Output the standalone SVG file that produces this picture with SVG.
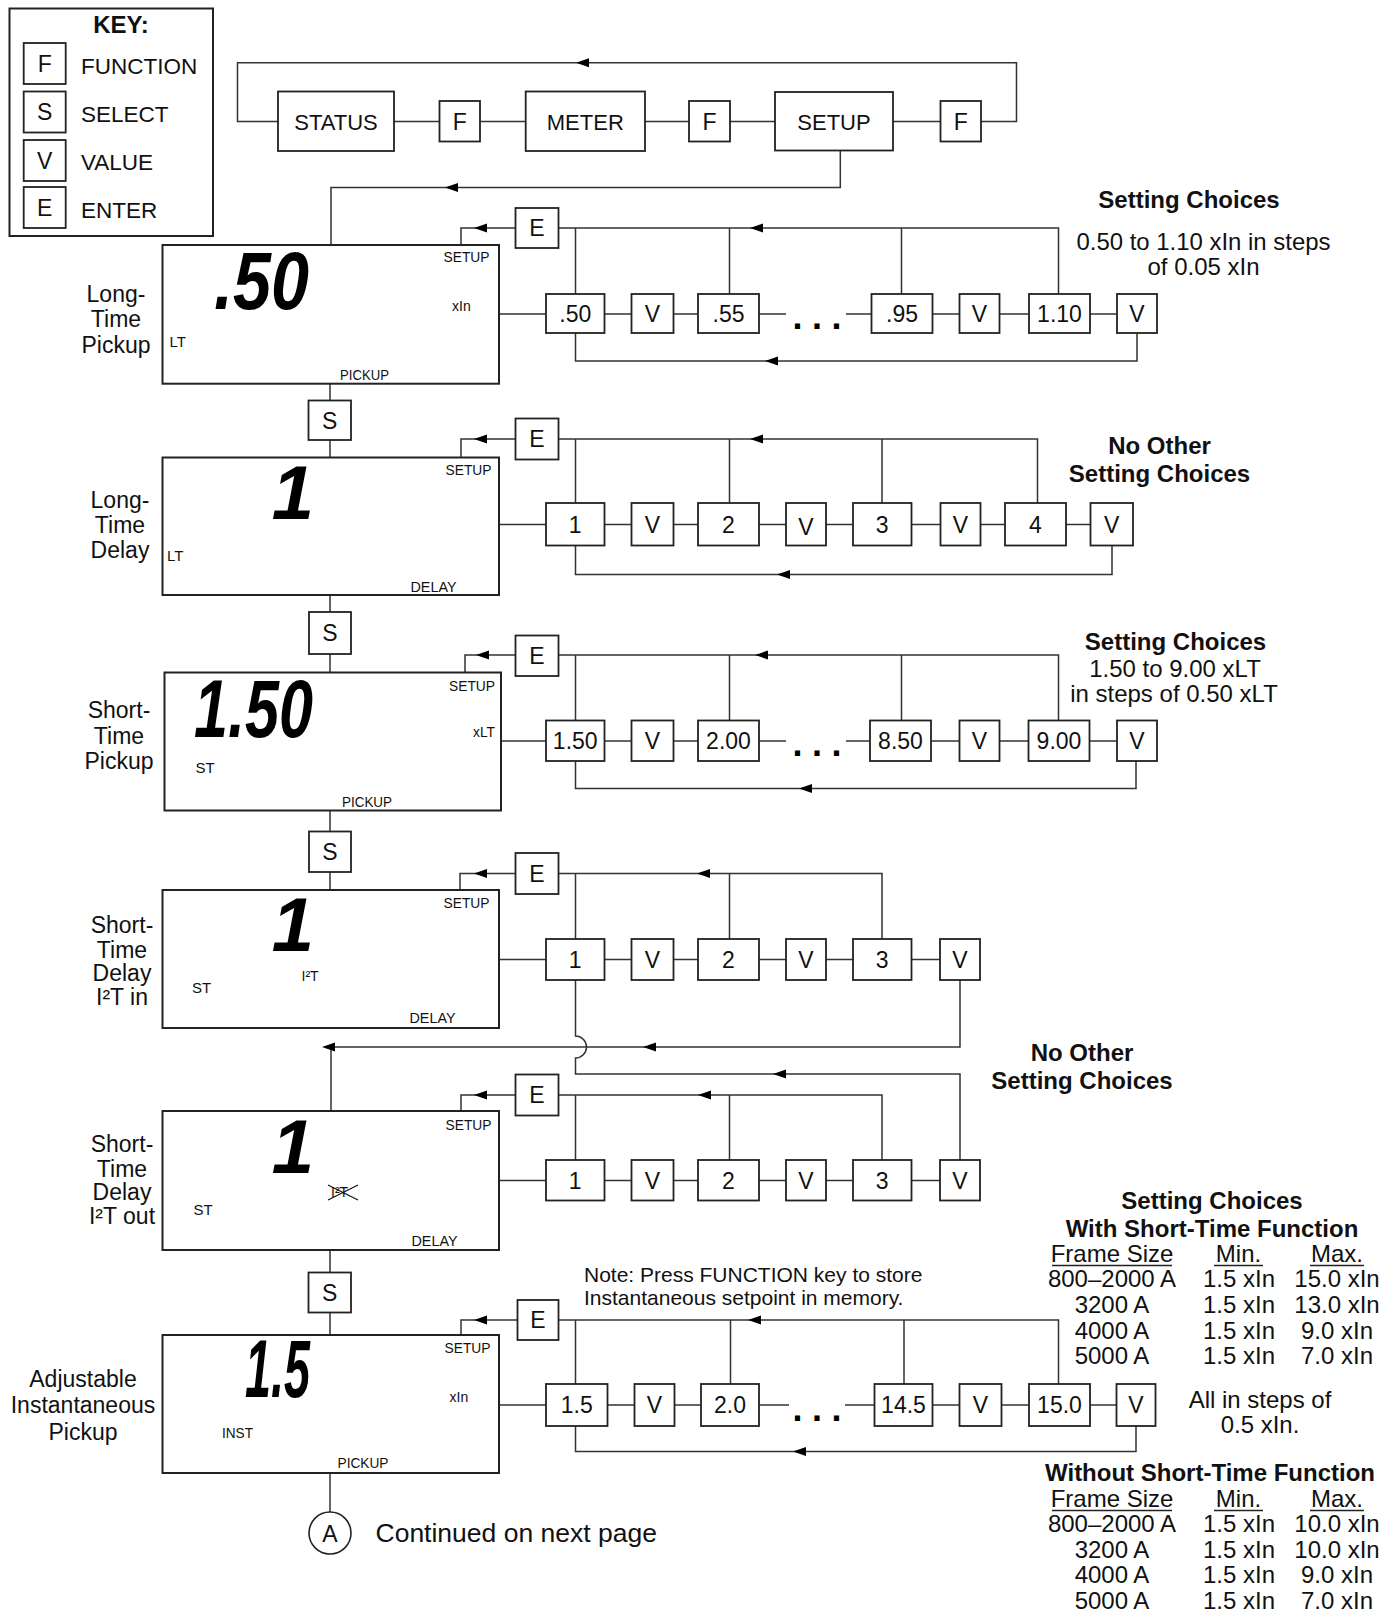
<svg xmlns="http://www.w3.org/2000/svg" width="1398" height="1613" viewBox="0 0 1398 1613">
<defs>
<style>
.bx{fill:#fff;stroke:#222;stroke-width:1.8}
.lcd{fill:#fff;stroke:#222;stroke-width:2}
.ln{fill:none;stroke:#333;stroke-width:1.5}
.t{font-family:"Liberation Sans",Arial,sans-serif;fill:#111}
.bl{font-size:23px;text-anchor:middle}
.lab{font-size:23px;text-anchor:middle}
.sm{font-size:15px}
.dig{font-family:"Liberation Sans",Arial,sans-serif;font-weight:bold;font-style:italic;font-size:82px;fill:#000}
.one{font-size:76px;text-anchor:end}
.hd{font-size:24px;font-weight:bold;text-anchor:middle}
.tx{font-size:24px;text-anchor:middle}
.dots{font-family:"Liberation Sans",Arial,sans-serif;font-weight:bold;font-size:36px;letter-spacing:9.5px;fill:#000}
</style>
<path id="ar" d="M0,0 L13,-4.5 L13,4.5 Z" fill="#000"/>
</defs>
<rect width="1398" height="1613" fill="#fff"/>

<g id="connectors">
<path class="ln" d="M278,121.5 H237.5 V62.7 H1016.5 V121.5 H981 M394,121.5 H439.5 M480,121.5 H525.7 M645,121.5 H689 M730,121.5 H775 M893,121.5 H940.5"/>
<use href="#ar" x="576" y="62.7"/>
<path class="ln" d="M840.3,150.5 V187.5 H331 V245"/>
<use href="#ar" x="445" y="187.5"/>
<!-- row 1 -->
<path class="ln" d="M515.5,228 H461 V245 M558.5,228 H1058.5 V294 M575.5,228 V294 M729.5,228 V294 M901.5,228 V294"/>
<use href="#ar" x="474" y="228"/><use href="#ar" x="750" y="228"/>
<path class="ln" d="M499,314 H546 M604.5,314 H631.5 M673.5,314 H698 M759,314 H786 M846,314 H871.5 M932.5,314 H959.5 M999.5,314 H1029 M1090,314 H1117"/>
<path class="ln" d="M1137,333 V361 H575.5 V333"/>
<use href="#ar" x="765" y="361"/>
<!-- S1 -->
<path class="ln" d="M330,383.7 V400.5 M330,440 V457.5"/>
<!-- row 2 -->
<path class="ln" d="M515.5,439 H461 V457.5 M558.5,439 H1037.5 V503 M575.5,439 V503 M729.5,439 V503 M882,439 V503"/>
<use href="#ar" x="474" y="439"/><use href="#ar" x="750" y="439"/>
<path class="ln" d="M499,524.5 H546 M604.5,524.5 H631.5 M673.5,524.5 H698 M759,524.5 H786 M826,524.5 H853 M911.5,524.5 H940.5 M980.5,524.5 H1005 M1066,524.5 H1090.5"/>
<path class="ln" d="M1112,545.5 V574.5 H575.5 V545.5"/>
<use href="#ar" x="777" y="574.5"/>
<!-- S2 -->
<path class="ln" d="M330,594.6 V612 M330,654 V672.5"/>
<!-- row 3 -->
<path class="ln" d="M515.5,655 H465 V672.5 M558.5,655 H1058.5 V720.5 M575.5,655 V720.5 M729.5,655 V720.5 M901.5,655 V720.5"/>
<use href="#ar" x="476" y="655"/><use href="#ar" x="755" y="655"/>
<path class="ln" d="M501,741 H546 M604.5,741 H631.5 M673.5,741 H698 M759,741 H786 M846,741 H870 M931,741 H959.5 M999.5,741 H1028.5 M1089.5,741 H1117"/>
<path class="ln" d="M1136,761 V788.5 H575.5 V761"/>
<use href="#ar" x="799" y="788.5"/>
<!-- S3 -->
<path class="ln" d="M330,810.6 V831.5 M330,872 V890"/>
<!-- row 4 -->
<path class="ln" d="M515.5,873.5 H460 V890 M558.5,873.5 H882 V939 M575.5,873.5 V939 M729.5,873.5 V939"/>
<use href="#ar" x="474" y="873.5"/><use href="#ar" x="697" y="873.5"/>
<path class="ln" d="M499,959.5 H546 M604.5,959.5 H631.5 M673.5,959.5 H698 M759,959.5 H786 M826,959.5 H853 M911.5,959.5 H940"/>
<path class="ln" d="M960,980 V1047 H331 V1111"/>
<use href="#ar" x="643" y="1047"/><use href="#ar" x="322" y="1047"/>
<path class="ln" d="M575.5,980 V1036 A11,11 0 0 1 575.5,1058 V1074 H960 V1160"/>
<use href="#ar" x="773" y="1074"/>
<!-- row 5 -->
<path class="ln" d="M515.5,1095 H461 V1111 M558.5,1095 H882 V1160 M575.5,1095 V1160 M729.5,1095 V1160"/>
<use href="#ar" x="474" y="1095"/><use href="#ar" x="698" y="1095"/>
<path class="ln" d="M499,1180.5 H546 M604.5,1180.5 H631.5 M673.5,1180.5 H698 M759,1180.5 H786 M826,1180.5 H853 M911.5,1180.5 H940"/>
<!-- S4 -->
<path class="ln" d="M330,1250 V1272.5 M330,1312.5 V1335"/>
<!-- row 6 -->
<path class="ln" d="M517.5,1320 H461 V1335 M558.5,1320 H1058.5 V1384 M575.5,1320 V1384 M730.5,1320 V1384 M904,1320 V1384"/>
<use href="#ar" x="474" y="1320"/><use href="#ar" x="748" y="1320"/>
<path class="ln" d="M499,1405 H546 M607.5,1405 H634.5 M674.5,1405 H701 M759,1405 H789 M845,1405 H874.5 M932.5,1405 H959.5 M1001.5,1405 H1029 M1090,1405 H1116.5"/>
<path class="ln" d="M1136,1426 V1451.5 H575.5 V1426"/>
<use href="#ar" x="793" y="1451.5"/>
<path class="ln" d="M330,1473 V1512"/>
</g>

<!-- KEY -->
<g id="key">
<rect x="9.5" y="8.5" width="203.5" height="227.5" fill="#fff" stroke="#222" stroke-width="2"/>
<text class="t" x="121" y="33" font-size="24" font-weight="bold" text-anchor="middle">KEY:</text>
<rect class="bx" x="23.7" y="43" width="42" height="41"/><text class="t bl" x="44.7" y="71.5">F</text>
<rect class="bx" x="23.7" y="91.5" width="42" height="41"/><text class="t bl" x="44.7" y="120">S</text>
<rect class="bx" x="23.7" y="140" width="42" height="41"/><text class="t bl" x="44.7" y="168.5">V</text>
<rect class="bx" x="23.7" y="187" width="42" height="41"/><text class="t bl" x="44.7" y="215.5">E</text>
<text class="t" x="81" y="74" font-size="22.5">FUNCTION</text>
<text class="t" x="81" y="122" font-size="22.5">SELECT</text>
<text class="t" x="81" y="169.5" font-size="22.5">VALUE</text>
<text class="t" x="81" y="218" font-size="22.5">ENTER</text>
</g>

<!-- top row -->
<g id="status"><rect class="bx" x="278" y="91.5" width="116" height="59.5"/><text class="t" x="336" y="129.5" font-size="22" text-anchor="middle">STATUS</text></g>
<g id="f1"><rect class="bx" x="439.5" y="101" width="40.5" height="40.5"/><text class="t bl" x="459.75" y="129.5">F</text></g>
<g id="meter"><rect class="bx" x="525.7" y="91.5" width="119.3" height="59.5"/><text class="t" x="585.3" y="129.5" font-size="22" text-anchor="middle">METER</text></g>
<g id="f2"><rect class="bx" x="689" y="101" width="41" height="40.5"/><text class="t bl" x="709.5" y="129.5">F</text></g>
<g id="setup"><rect class="bx" x="775" y="92" width="118" height="58.5"/><text class="t" x="834" y="129.5" font-size="22" text-anchor="middle">SETUP</text></g>
<g id="f3"><rect class="bx" x="940.5" y="101" width="40.5" height="40.5"/><text class="t bl" x="960.75" y="129.5">F</text></g>

<!-- ROW 1 -->
<g id="label1" class="t lab"><text x="116" y="302">Long-</text><text x="116" y="327">Time</text><text x="116" y="352.6">Pickup</text></g>
<g id="lcd1">
<rect class="lcd" x="162.5" y="245" width="336.5" height="138.7"/>
<text class="dig" x="214" y="309" textLength="95" lengthAdjust="spacingAndGlyphs">.50</text>
<text class="t sm" x="443.5" y="262" textLength="46" lengthAdjust="spacingAndGlyphs">SETUP</text>
<text class="t" x="452" y="310.5" font-size="14">xIn</text>
<text class="t sm" x="169.5" y="347">LT</text>
<text class="t sm" x="340" y="380" textLength="49" lengthAdjust="spacingAndGlyphs">PICKUP</text>
</g>
<g id="e1"><rect class="bx" x="515.5" y="208" width="43" height="40"/><text class="t bl" x="537" y="236">E</text></g>
<g id="r1v50"><rect class="bx" x="546" y="294" width="58.5" height="39"/><text class="t bl" x="575.25" y="322">.50</text></g>
<g id="r1va"><rect class="bx" x="631.5" y="294" width="42" height="39"/><text class="t bl" x="652.5" y="322">V</text></g>
<g id="r1v55"><rect class="bx" x="698" y="294" width="61" height="39"/><text class="t bl" x="728.5" y="322">.55</text></g>
<text class="dots" x="792.5" y="328.5">...</text>
<g id="r1v95"><rect class="bx" x="871.5" y="294" width="61" height="39"/><text class="t bl" x="902" y="322">.95</text></g>
<g id="r1vb"><rect class="bx" x="959.5" y="294" width="40" height="39"/><text class="t bl" x="979.5" y="322">V</text></g>
<g id="r1v110"><rect class="bx" x="1029" y="294" width="61" height="39"/><text class="t bl" x="1059.5" y="322">1.10</text></g>
<g id="r1vc"><rect class="bx" x="1117" y="294" width="40" height="39"/><text class="t bl" x="1137" y="322">V</text></g>
<g id="note1" class="t"><text class="hd" x="1189" y="208">Setting Choices</text><text class="tx" x="1203.5" y="250" font-size="23" textLength="254" lengthAdjust="spacingAndGlyphs">0.50 to 1.10 xIn in steps</text><text class="tx" x="1203.5" y="275" font-size="23">of 0.05 xIn</text></g>

<!-- ROW 2 -->
<g id="s1"><rect class="bx" x="308.5" y="400.5" width="42.5" height="39.5"/><text class="t bl" x="329.75" y="428.5">S</text></g>
<g id="label2" class="t lab"><text x="120" y="508">Long-</text><text x="120" y="532.6">Time</text><text x="120" y="558">Delay</text></g>
<g id="lcd2">
<rect class="lcd" x="162.5" y="457.5" width="336.5" height="137.5"/>
<text class="dig one" x="314" y="519">1</text>
<text class="t sm" x="445.5" y="475" textLength="46" lengthAdjust="spacingAndGlyphs">SETUP</text>
<text class="t sm" x="167" y="560.5">LT</text>
<text class="t sm" x="410.5" y="591.5" textLength="46" lengthAdjust="spacingAndGlyphs">DELAY</text>
</g>
<g id="e2"><rect class="bx" x="515.5" y="418.5" width="43" height="41"/><text class="t bl" x="537" y="447">E</text></g>
<g id="r2a"><rect class="bx" x="546" y="503" width="58.5" height="42.5"/><text class="t bl" x="575.25" y="532.5">1</text></g>
<g id="r2b"><rect class="bx" x="631.5" y="503" width="42" height="42.5"/><text class="t bl" x="652.5" y="532.5">V</text></g>
<g id="r2c"><rect class="bx" x="698" y="503" width="61" height="42.5"/><text class="t bl" x="728.5" y="532.5">2</text></g>
<g id="r2d"><rect class="bx" x="786" y="503" width="40" height="42.5"/><text class="t bl" x="806" y="535">V</text></g>
<g id="r2e"><rect class="bx" x="853" y="503" width="58.5" height="42.5"/><text class="t bl" x="882.25" y="532.5">3</text></g>
<g id="r2f"><rect class="bx" x="940.5" y="503" width="40" height="42.5"/><text class="t bl" x="960.5" y="532.5">V</text></g>
<g id="r2g"><rect class="bx" x="1005" y="503" width="61" height="42.5"/><text class="t bl" x="1035.5" y="532.5">4</text></g>
<g id="r2h"><rect class="bx" x="1090.5" y="503" width="42.5" height="42.5"/><text class="t bl" x="1111.75" y="532.5">V</text></g>
<g id="note2" class="t"><text class="hd" x="1159.5" y="454">No Other</text><text class="hd" x="1159.5" y="482">Setting Choices</text></g>

<!-- ROW 3 -->
<g id="s2"><rect class="bx" x="309" y="612" width="42" height="42"/><text class="t bl" x="330" y="641">S</text></g>
<g id="label3" class="t lab"><text x="119" y="718">Short-</text><text x="119" y="743.5">Time</text><text x="119" y="769">Pickup</text></g>
<g id="lcd3">
<rect class="lcd" x="164.5" y="672.5" width="336.5" height="138"/>
<text class="dig" x="194" y="737" textLength="119" lengthAdjust="spacingAndGlyphs">1.50</text>
<text class="t sm" x="449" y="690.5" textLength="46" lengthAdjust="spacingAndGlyphs">SETUP</text>
<text class="t" x="473" y="737" font-size="14" textLength="22" lengthAdjust="spacingAndGlyphs">xLT</text>
<text class="t sm" x="195.5" y="772.5">ST</text>
<text class="t sm" x="342" y="806.5" textLength="50" lengthAdjust="spacingAndGlyphs">PICKUP</text>
</g>
<g id="e3"><rect class="bx" x="515.5" y="635.5" width="43" height="40.5"/><text class="t bl" x="537" y="663.5">E</text></g>
<g id="r3a"><rect class="bx" x="546" y="720.5" width="58.5" height="40.5"/><text class="t bl" x="575.25" y="749">1.50</text></g>
<g id="r3b"><rect class="bx" x="631.5" y="720.5" width="42" height="40.5"/><text class="t bl" x="652.5" y="749">V</text></g>
<g id="r3c"><rect class="bx" x="698" y="720.5" width="61" height="40.5"/><text class="t bl" x="728.5" y="749">2.00</text></g>
<text class="dots" x="792.5" y="755.5">...</text>
<g id="r3d"><rect class="bx" x="870" y="720.5" width="61" height="40.5"/><text class="t bl" x="900.5" y="749">8.50</text></g>
<g id="r3e"><rect class="bx" x="959.5" y="720.5" width="40" height="40.5"/><text class="t bl" x="979.5" y="749">V</text></g>
<g id="r3f"><rect class="bx" x="1028.5" y="720.5" width="61" height="40.5"/><text class="t bl" x="1059" y="749">9.00</text></g>
<g id="r3g"><rect class="bx" x="1117" y="720.5" width="40" height="40.5"/><text class="t bl" x="1137" y="749">V</text></g>
<g id="note3" class="t"><text class="hd" x="1175.5" y="650">Setting Choices</text><text class="tx" x="1175" y="677">1.50 to 9.00 xLT</text><text class="tx" x="1174" y="702">in steps of 0.50 xLT</text></g>

<!-- ROW 4 -->
<g id="s3"><rect class="bx" x="309" y="831.5" width="42" height="40.5"/><text class="t bl" x="330" y="860">S</text></g>
<g id="label4" class="t lab"><text x="122" y="933">Short-</text><text x="122" y="957.5">Time</text><text x="122" y="981">Delay</text><text x="122" y="1005">I²T in</text></g>
<g id="lcd4">
<rect class="lcd" x="162.5" y="890" width="336.5" height="138"/>
<text class="dig one" x="314" y="951">1</text>
<text class="t sm" x="443.5" y="908" textLength="46" lengthAdjust="spacingAndGlyphs">SETUP</text>
<text class="t" x="301.5" y="980.5" font-size="14">I²T</text>
<text class="t sm" x="192" y="993">ST</text>
<text class="t sm" x="409.5" y="1023" textLength="46" lengthAdjust="spacingAndGlyphs">DELAY</text>
</g>
<g id="e4"><rect class="bx" x="515.5" y="853" width="43" height="41"/><text class="t bl" x="537" y="881.5">E</text></g>
<g id="r4a"><rect class="bx" x="546" y="939" width="58.5" height="41"/><text class="t bl" x="575.25" y="967.5">1</text></g>
<g id="r4b"><rect class="bx" x="631.5" y="939" width="42" height="41"/><text class="t bl" x="652.5" y="967.5">V</text></g>
<g id="r4c"><rect class="bx" x="698" y="939" width="61" height="41"/><text class="t bl" x="728.5" y="967.5">2</text></g>
<g id="r4d"><rect class="bx" x="786" y="939" width="40" height="41"/><text class="t bl" x="806" y="967.5">V</text></g>
<g id="r4e"><rect class="bx" x="853" y="939" width="58.5" height="41"/><text class="t bl" x="882.25" y="967.5">3</text></g>
<g id="r4f"><rect class="bx" x="940" y="939" width="40" height="41"/><text class="t bl" x="960" y="967.5">V</text></g>

<!-- ROW 5 -->
<g id="label5" class="t lab"><text x="122" y="1152">Short-</text><text x="122" y="1176.6">Time</text><text x="122" y="1200">Delay</text><text x="122" y="1224">I²T out</text></g>
<g id="lcd5">
<rect class="lcd" x="162.5" y="1111" width="336.5" height="139"/>
<text class="dig one" x="314" y="1173">1</text>
<text class="t sm" x="445.5" y="1129.5" textLength="46" lengthAdjust="spacingAndGlyphs">SETUP</text>
<text class="t" x="331" y="1197" font-size="14">I²T</text>
<path d="M328,1185 L358,1200 M328,1200 L358,1185" stroke="#111" stroke-width="1.2" fill="none"/>
<text class="t sm" x="193.5" y="1215">ST</text>
<text class="t sm" x="411.5" y="1245.5" textLength="46" lengthAdjust="spacingAndGlyphs">DELAY</text>
</g>
<g id="e5"><rect class="bx" x="515.5" y="1074.5" width="43" height="41"/><text class="t bl" x="537" y="1103">E</text></g>
<g id="r5a"><rect class="bx" x="546" y="1160" width="58.5" height="40.5"/><text class="t bl" x="575.25" y="1188.5">1</text></g>
<g id="r5b"><rect class="bx" x="631.5" y="1160" width="42" height="40.5"/><text class="t bl" x="652.5" y="1188.5">V</text></g>
<g id="r5c"><rect class="bx" x="698" y="1160" width="61" height="40.5"/><text class="t bl" x="728.5" y="1188.5">2</text></g>
<g id="r5d"><rect class="bx" x="786" y="1160" width="40" height="40.5"/><text class="t bl" x="806" y="1188.5">V</text></g>
<g id="r5e"><rect class="bx" x="853" y="1160" width="58.5" height="40.5"/><text class="t bl" x="882.25" y="1188.5">3</text></g>
<g id="r5f"><rect class="bx" x="940" y="1160" width="40" height="40.5"/><text class="t bl" x="960" y="1188.5">V</text></g>
<g id="note5" class="t"><text class="hd" x="1082" y="1061">No Other</text><text class="hd" x="1082" y="1089">Setting Choices</text></g>

<!-- ROW 6 -->
<g id="s4"><rect class="bx" x="308.5" y="1272.5" width="42.5" height="40"/><text class="t bl" x="329.75" y="1300.5">S</text></g>
<g id="label6" class="t lab"><text x="83" y="1386.5">Adjustable</text><text x="83" y="1413">Instantaneous</text><text x="83" y="1440">Pickup</text></g>
<g id="lcd6">
<rect class="lcd" x="162.5" y="1335" width="336.5" height="138"/>
<text class="dig" x="245" y="1397" textLength="65" lengthAdjust="spacingAndGlyphs">1.5</text>
<text class="t sm" x="444.5" y="1353" textLength="46" lengthAdjust="spacingAndGlyphs">SETUP</text>
<text class="t" x="449.5" y="1402" font-size="14">xIn</text>
<text class="t sm" x="222" y="1438" textLength="31" lengthAdjust="spacingAndGlyphs">INST</text>
<text class="t sm" x="337.5" y="1468" textLength="51" lengthAdjust="spacingAndGlyphs">PICKUP</text>
</g>
<g id="e6"><rect class="bx" x="517.5" y="1300" width="41" height="40"/><text class="t bl" x="538" y="1328">E</text></g>
<g id="r6a"><rect class="bx" x="546" y="1384" width="61.5" height="42"/><text class="t bl" x="576.75" y="1413">1.5</text></g>
<g id="r6b"><rect class="bx" x="634.5" y="1384" width="40" height="42"/><text class="t bl" x="654.5" y="1413">V</text></g>
<g id="r6c"><rect class="bx" x="701" y="1384" width="58" height="42"/><text class="t bl" x="730" y="1413">2.0</text></g>
<text class="dots" x="792.5" y="1421">...</text>
<g id="r6d"><rect class="bx" x="874.5" y="1384" width="58" height="42"/><text class="t bl" x="903.5" y="1413">14.5</text></g>
<g id="r6e"><rect class="bx" x="959.5" y="1384" width="42" height="42"/><text class="t bl" x="980.5" y="1413">V</text></g>
<g id="r6f"><rect class="bx" x="1029" y="1384" width="61" height="42"/><text class="t bl" x="1059.5" y="1413">15.0</text></g>
<g id="r6g"><rect class="bx" x="1116.5" y="1384" width="39" height="42"/><text class="t bl" x="1136" y="1413">V</text></g>
<g id="note6" class="t" font-size="21"><text x="584" y="1282">Note: Press FUNCTION key to store</text><text x="584" y="1304.5">Instantaneous setpoint in memory.</text></g>

<g id="connA"><circle cx="330" cy="1533" r="21" fill="#fff" stroke="#222" stroke-width="1.6"/><text class="t bl" x="330" y="1541.5">A</text>
<text class="t" x="375.5" y="1541.5" font-size="26.5">Continued on next page</text></g>

<!-- Table -->
<g id="table" class="t">
<text class="hd" x="1212" y="1209">Setting Choices</text>
<text class="hd" x="1212" y="1237">With Short-Time Function</text>
<text class="tx" x="1112" y="1261.5">Frame Size</text><text class="tx" x="1238.5" y="1261.5">Min.</text><text class="tx" x="1337" y="1261.5">Max.</text>
<path d="M1052,1265.5 H1172 M1214,1265.5 H1263 M1310,1265.5 H1364" stroke="#222" stroke-width="1.3"/>
<text class="tx" x="1112" y="1287">800–2000 A</text><text class="tx" x="1239" y="1287">1.5 xIn</text><text class="tx" x="1337" y="1287">15.0 xIn</text>
<text class="tx" x="1112" y="1312.5">3200 A</text><text class="tx" x="1239" y="1312.5">1.5 xIn</text><text class="tx" x="1337" y="1312.5">13.0 xIn</text>
<text class="tx" x="1112" y="1338.5">4000 A</text><text class="tx" x="1239" y="1338.5">1.5 xIn</text><text class="tx" x="1337" y="1338.5">9.0 xIn</text>
<text class="tx" x="1112" y="1363.5">5000 A</text><text class="tx" x="1239" y="1363.5">1.5 xIn</text><text class="tx" x="1337" y="1363.5">7.0 xIn</text>
<text class="tx" x="1260" y="1407.5">All in steps of</text>
<text class="tx" x="1260" y="1432.5">0.5 xIn.</text>
<text class="hd" x="1210" y="1481">Without Short-Time Function</text>
<text class="tx" x="1112" y="1506.5">Frame Size</text><text class="tx" x="1238.5" y="1506.5">Min.</text><text class="tx" x="1337" y="1506.5">Max.</text>
<path d="M1052,1510.5 H1172 M1214,1510.5 H1263 M1310,1510.5 H1364" stroke="#222" stroke-width="1.3"/>
<text class="tx" x="1112" y="1532">800–2000 A</text><text class="tx" x="1239" y="1532">1.5 xIn</text><text class="tx" x="1337" y="1532">10.0 xIn</text>
<text class="tx" x="1112" y="1557.5">3200 A</text><text class="tx" x="1239" y="1557.5">1.5 xIn</text><text class="tx" x="1337" y="1557.5">10.0 xIn</text>
<text class="tx" x="1112" y="1582.5">4000 A</text><text class="tx" x="1239" y="1582.5">1.5 xIn</text><text class="tx" x="1337" y="1582.5">9.0 xIn</text>
<text class="tx" x="1112" y="1608.5">5000 A</text><text class="tx" x="1239" y="1608.5">1.5 xIn</text><text class="tx" x="1337" y="1608.5">7.0 xIn</text>
</g>
</svg>
